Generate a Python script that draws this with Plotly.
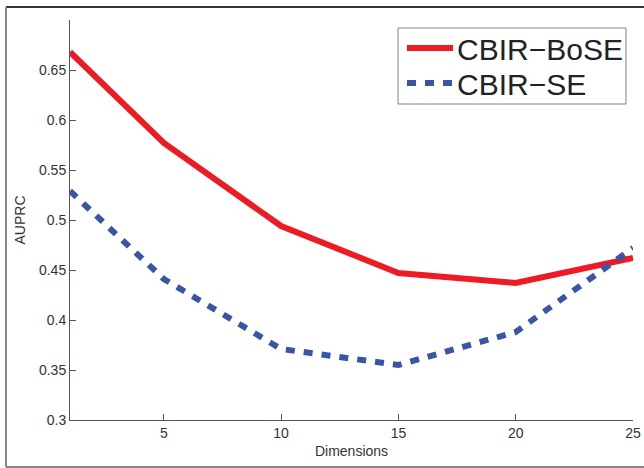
import plotly.graph_objects as go

dims = [1, 3, 5, 10, 15, 20, 25]
bose = [0.668, 0.623, 0.577, 0.494, 0.447, 0.437, 0.462]
se = [0.529, 0.485, 0.441, 0.371, 0.355, 0.388, 0.472]
x_ticks = [5, 10, 15, 20, 25]
y_ticks = [0.3, 0.35, 0.4, 0.45, 0.5, 0.55, 0.6, 0.65]
y_labels = ["0.3", "0.35", "0.4", "0.45", "0.5", "0.55", "0.6", "0.65"]
series_names = ["CBIR\u2212BoSE", "CBIR\u2212SE"]
series_colors = ["#ed1c24", "#3a54a6"]
series_dash = ["solid", "9px,9px"]

fig = go.Figure()
for name, vals, col, dash in zip(series_names, [bose, se], series_colors, series_dash):
    fig.add_trace(go.Scatter(x=dims, y=vals, mode="lines", name=name,
                             line=dict(color=col, width=6, dash=dash)))

font = "Liberation Sans, Arial, sans-serif"
axis_common = dict(showgrid=False, zeroline=False, showline=True, linecolor="#555555",
                   linewidth=1, ticks="inside", ticklen=6, tickcolor="#555555",
                   automargin=False,
                   tickfont=dict(family=font, size=14, color="#333333"))
fig.update_xaxes(range=[1, 25], tickvals=x_ticks, ticktext=[str(v) for v in x_ticks],
                 title=dict(text="Dimensions", font=dict(family=font, size=14, color="#333333"), standoff=6),
                 **axis_common)
fig.update_yaxes(range=[0.3, 0.7], tickvals=y_ticks, ticktext=y_labels,
                 title=dict(text="AUPRC", font=dict(family=font, size=14, color="#333333"), standoff=10),
                 **axis_common)

W, H = 644, 468
l, r, t, b = 70, 11, 20, 48
pw, ph = W - l - r, H - t - b
def px(xp):
    return (xp - l) / pw
def py(yp):
    return (H - b - yp) / ph

shapes = [
    dict(type="line", xref="paper", yref="paper", x0=px(6), x1=px(660), y0=py(7), y1=py(7),
         line=dict(color="#333333", width=2)),
    dict(type="line", xref="paper", yref="paper", x0=px(6), x1=px(6), y0=py(7), y1=py(467),
         line=dict(color="#888888", width=2)),
    dict(type="line", xref="paper", yref="paper", x0=px(6), x1=px(660), y0=py(467), y1=py(467),
         line=dict(color="#888888", width=2)),
    # legend box
    dict(type="rect", xref="paper", yref="paper", x0=px(398), x1=px(626), y0=py(104), y1=py(28),
         line=dict(color="#808080", width=1), fillcolor="white", layer="above"),
]
annotations = []
row_y = [48, 83]
for name, col, dash, yy in zip(series_names, series_colors, series_dash, row_y):
    shapes.append(dict(type="line", xref="paper", yref="paper", x0=px(407), x1=px(453),
                       y0=py(yy), y1=py(yy), layer="above",
                       line=dict(color=col, width=6, dash=dash)))
    annotations.append(dict(x=px(455), y=py(yy + 1), xref="paper", yref="paper",
                            xanchor="left", yanchor="middle", showarrow=False, text=name,
                            font=dict(family=font, size=30, color="#222222")))

fig.update_layout(
    width=W, height=H,
    margin=dict(l=l, r=r, t=t, b=b, autoexpand=False),
    paper_bgcolor="white", plot_bgcolor="white",
    shapes=shapes, annotations=annotations,
    showlegend=False,
)
fig.write_html("out.html")
